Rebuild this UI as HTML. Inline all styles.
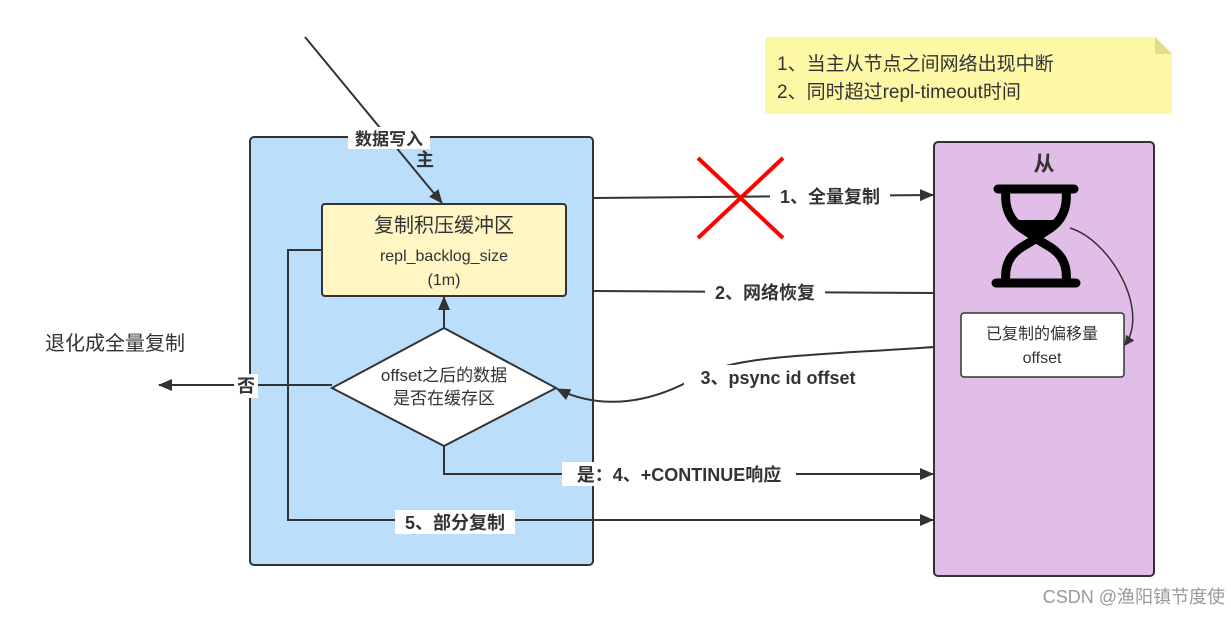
<!DOCTYPE html>
<html><head><meta charset="utf-8"><style>
body{margin:0;background:#fff;}
svg text{font-family:"Liberation Sans","Noto Sans CJK SC",sans-serif;}
</style></head><body>
<svg width="1231" height="615" viewBox="0 0 1231 615" xmlns="http://www.w3.org/2000/svg">
<defs>
<marker id="a" markerWidth="10" markerHeight="10" refX="9" refY="5" orient="auto" markerUnits="userSpaceOnUse"><path d="M0,0 L10,5 L0,10 Z" fill="#333"/></marker>
<marker id="b" markerWidth="14" markerHeight="12" refX="13" refY="6" orient="auto" markerUnits="userSpaceOnUse"><path d="M0,0 L14,6 L0,12 Z" fill="#333"/></marker>
</defs>
<!-- note -->
<path d="M765,37 L1155,37 L1172,54 L1172,114 L765,114 Z" fill="#fdf8a6"/>
<path d="M1155,37 L1155,54 L1172,54 Z" fill="#e2dc8a"/>
<text x="777" y="70" font-size="19" fill="#333">1、当主从节点之间网络出现中断</text>
<text x="777" y="98" font-size="19" fill="#333">2、同时超过repl-timeout时间</text>
<!-- master -->
<rect x="250" y="137" width="343" height="428" rx="4" fill="#bbdefb" stroke="#333" stroke-width="2"/>
<!-- slave -->
<rect x="934" y="142" width="220" height="434" rx="4" fill="#e1bee7" stroke="#333" stroke-width="2"/>
<text x="1044" y="171" font-size="21" font-weight="bold" fill="#333" text-anchor="middle">从</text>
<!-- hourglass -->
<g stroke="#000" stroke-width="9" fill="none" stroke-linecap="round">
<line x1="998" y1="189" x2="1074" y2="189"/>
<line x1="996" y1="283" x2="1076" y2="283"/>
<path d="M1006,189 C1002,225 1028,230 1036,238 C1044,230 1070,225 1066,189"/>
<path d="M1006,283 C1002,250 1028,246 1036,238 C1044,246 1070,250 1066,283"/>
</g>
<path d="M1014,220 L1058,220 C1054,229 1042,232 1036,232 C1030,232 1018,229 1014,220 Z" fill="#000"/>
<rect x="961" y="313" width="163" height="64" rx="3" fill="#fff" stroke="#333" stroke-width="1.5"/>
<text x="1042" y="339" font-size="16" fill="#333" text-anchor="middle">已复制的偏移量</text>
<text x="1042" y="363" font-size="16" fill="#333" text-anchor="middle">offset</text>
<path d="M1070,228 C1110,240 1150,310 1125,345" stroke="#333" stroke-width="1.5" fill="none" marker-end="url(#a)"/>
<!-- yellow buffer -->
<rect x="322" y="204" width="244" height="92" rx="3" fill="#fff6c4" stroke="#333" stroke-width="2"/>
<text x="444" y="232" font-size="20" fill="#333" text-anchor="middle">复制积压缓冲区</text>
<text x="444" y="261" font-size="16" fill="#333" text-anchor="middle">repl_backlog_size</text>
<text x="444" y="285" font-size="16" fill="#333" text-anchor="middle">(1m)</text>
<!-- diamond -->
<path d="M444,328 L556,388 L444,446 L332,388 Z" fill="#fff" stroke="#333" stroke-width="2"/>
<text x="444" y="381" font-size="17" fill="#333" text-anchor="middle">offset之后的数据</text>
<text x="444" y="404" font-size="17" fill="#333" text-anchor="middle">是否在缓存区</text>
<!-- connectors -->
<line x1="305" y1="37" x2="442" y2="203" stroke="#333" stroke-width="2" marker-end="url(#b)"/>
<rect x="348" y="127" width="82" height="22" fill="#fff"/>
<text x="389" y="145" font-size="17" font-weight="bold" fill="#333" text-anchor="middle">数据写入</text>
<text x="425" y="166" font-size="18" font-weight="bold" fill="#333" text-anchor="middle">主</text>
<line x1="444" y1="328" x2="444" y2="297" stroke="#333" stroke-width="2" marker-end="url(#b)"/>
<line x1="593" y1="198" x2="933" y2="195" stroke="#333" stroke-width="2" marker-end="url(#b)"/>
<line x1="698" y1="158" x2="783" y2="238" stroke="#f00" stroke-width="4"/>
<line x1="783" y1="158" x2="698" y2="238" stroke="#f00" stroke-width="4"/>
<rect x="770" y="185" width="120" height="24" fill="#fff"/>
<text x="830" y="203" font-size="18" font-weight="bold" fill="#333" text-anchor="middle">1、全量复制</text>
<line x1="593" y1="291" x2="934" y2="293" stroke="#333" stroke-width="2"/>
<rect x="705" y="281" width="120" height="24" fill="#fff"/>
<text x="765" y="299" font-size="18" font-weight="bold" fill="#333" text-anchor="middle">2、网络恢复</text>
<path d="M934,347 C820,355 740,355 700,375 C650,405 600,410 557,389" stroke="#333" stroke-width="2" fill="none" marker-end="url(#b)"/>
<rect x="684" y="365" width="190" height="24" fill="#fff"/>
<text x="778" y="384" font-size="18" font-weight="bold" fill="#333" text-anchor="middle">3、psync id offset</text>
<polyline points="444,446 444,474 933,474" stroke="#333" stroke-width="2" fill="none" marker-end="url(#b)"/>
<rect x="562" y="462" width="234" height="24" fill="#fff"/>
<text x="679" y="481" font-size="18" font-weight="bold" fill="#333" text-anchor="middle">是：4、+CONTINUE响应</text>
<polyline points="322,250 288,250 288,520 933,520" stroke="#333" stroke-width="2" fill="none" marker-end="url(#b)"/>
<rect x="395" y="510" width="120" height="24" fill="#fff"/>
<text x="455" y="529" font-size="18" font-weight="bold" fill="#333" text-anchor="middle">5、部分复制</text>
<line x1="332" y1="385" x2="159" y2="385" stroke="#333" stroke-width="2" marker-end="url(#b)"/>
<rect x="234" y="374" width="24" height="24" fill="#fff"/>
<text x="246" y="392" font-size="18" font-weight="bold" fill="#333" text-anchor="middle">否</text>
<text x="45" y="350" font-size="20" fill="#333">退化成全量复制</text>
<text x="1225" y="603" font-size="18" fill="#999" text-anchor="end">CSDN @渔阳镇节度使</text>
</svg>
</body></html>
